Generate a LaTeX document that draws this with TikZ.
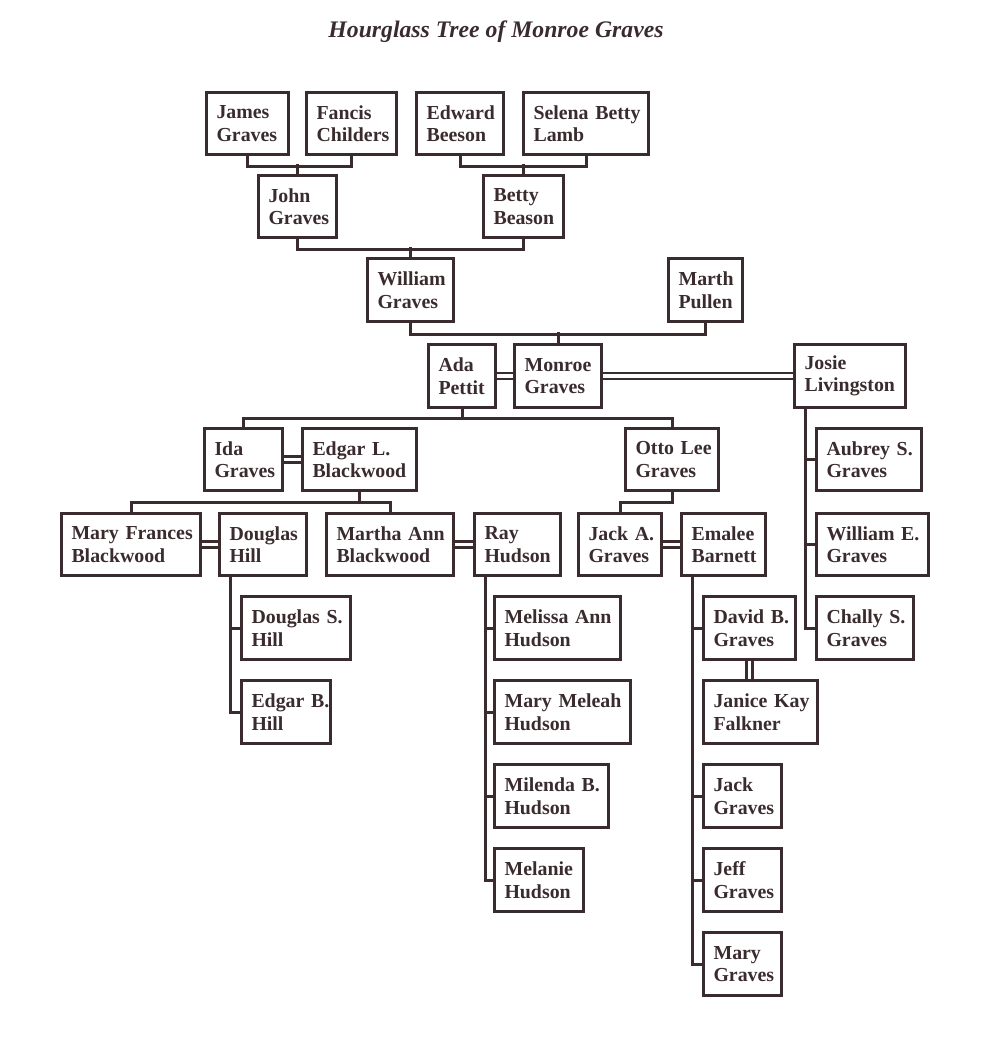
\documentclass[tikz,border=0pt]{standalone}
\usepackage{fontspec}
\setmainfont{Liberation Serif}
\usetikzlibrary{backgrounds}
\definecolor{ink}{RGB}{58,44,46}

\begin{document}
\begin{tikzpicture}
[
x=0.02cm, y=-0.02cm,
Person/.style={rectangle, draw=ink, line width=0.06cm, text=ink, font=\fontsize{11.3}{12.8}\selectfont\bfseries, align=left, inner xsep=0.2cm, inner ysep=0pt, minimum height=1.26cm, text width={(#1-23)*0.02cm},
  execute at begin node={\hyphenpenalty=10000\exhyphenpenalty=10000}},
Title/.style={text=ink, font=\fontsize{13.5}{16}\selectfont\bfseries\itshape},
Line/.style={draw=ink, line width=0.06cm},
Spouse/.style={draw=ink, line width=0.05cm, double=white, double distance=0.07cm},
]
\useasboundingbox (0,0) rectangle (990,1043);

\node[Title] (title) at (496,32) {Hourglass Tree of Monroe Graves};

\node[Person=85]  (jamesg)   at (247.5,123.5) {James\\Graves};
\node[Person=93]  (fancisc)  at (351.5,123.5) {Fancis\\Childers};
\node[Person=90]  (edwardb)  at (460,123.5)   {Edward\\Beeson};
\node[Person=128] (selenal)  at (586,123.5)   {Selena~Betty\\Lamb};

\node[Person=81]  (johng)    at (297.5,206.5) {John\\Graves};
\node[Person=83]  (bettyb)   at (523.5,206.5) {Betty\\Beason};

\node[Person=89]  (williamg) at (410.5,290)   {William\\Graves};
\node[Person=77]  (marthp)   at (705.5,290)   {Marth\\Pullen};

\node[Person=70]  (adap)     at (462,376)     {Ada\\Pettit};
\node[Person=90]  (monroeg)  at (558,376)     {Monroe\\Graves};
\node[Person=114] (josiel)   at (850,376)     {Josie\\Livingston};

\node[Person=81]  (idag)     at (243.5,459.5) {Ida\\Graves};
\node[Person=117] (edgarlb)  at (359.5,459.5) {Edgar~L.\\Blackwood};
\node[Person=96]  (ottolg)   at (672,459.5)   {Otto~Lee\\Graves};
\node[Person=108] (aubreysg) at (869,459.5)   {Aubrey~S.\\Graves};

\node[Person=142] (maryfb)   at (131,544.5)   {Mary~Frances\\Blackwood};
\node[Person=90]  (douglash) at (263,544.5)   {Douglas\\Hill};
\node[Person=130] (marthaab) at (390,544.5)   {Martha~Ann\\Blackwood};
\node[Person=89]  (rayh)     at (517.5,544.5) {Ray\\Hudson};
\node[Person=86]  (jackag)   at (620,544.5)   {Jack~A.\\Graves};
\node[Person=87]  (emaleeb)  at (723.5,544.5) {Emalee\\Barnett};
\node[Person=115] (williameg) at (872.5,544.5) {William~E.\\Graves};

\node[Person=112] (douglassh) at (296,628)    {Douglas~S.\\Hill};
\node[Person=129] (melissaah) at (557.5,628)  {Melissa~Ann\\Hudson};
\node[Person=95]  (davidbg)  at (749.5,628)   {David~B.\\Graves};
\node[Person=100] (challysg) at (865,628)     {Chally~S.\\Graves};

\node[Person=92]  (edgarbh)  at (286,712)     {Edgar~B.\\Hill};
\node[Person=139] (marymh)   at (562.5,712)   {Mary~Meleah\\Hudson};
\node[Person=117] (janicekf) at (760.5,712)   {Janice~Kay\\Falkner};

\node[Person=117] (milendabh) at (551.5,796)  {Milenda~B.\\Hudson};
\node[Person=81]  (jackg)    at (742.5,796)   {Jack\\Graves};

\node[Person=92]  (melanieh) at (539,880)     {Melanie\\Hudson};
\node[Person=81]  (jeffg)    at (742.5,880)   {Jeff\\Graves};

\node[Person=81]  (maryg)    at (742.5,964)   {Mary\\Graves};

\begin{scope}[on background layer]
% ancestors
\draw[Line] (jamesg.south) -- ++(0,10) -| (fancisc.south);
\draw[Line] (johng.north) -- ++(0,-10);
\draw[Line] (edwardb.south) -- ++(0,10) -| (selenal.south);
\draw[Line] (bettyb.north) -- ++(0,-10);
\draw[Line] (johng.south) -- ++(0,10) -| (bettyb.south);
\draw[Line] (williamg.north) -- ++(0,-10);
\draw[Line] (williamg.south) -- ++(0,11.5) -| (marthp.south);
\draw[Line] (monroeg.north) -- ++(0,-11.5);

% marriages
\draw[Spouse] (adap) -- (monroeg);
\draw[Spouse] (monroeg) -- (josiel);
\draw[Spouse] (idag) -- (edgarlb);
\draw[Spouse] (maryfb) -- (douglash);
\draw[Spouse] (marthaab) -- (rayh);
\draw[Spouse] (jackag) -- (emaleeb);
\draw[Spouse] (davidbg.south) -- (davidbg.south |- janicekf.north);

% descendants
\draw[Line] (adap.south) -- ++(0,9.5) coordinate (adabar);
\draw[Line] (idag.north) |- (adabar) -| (ottolg.north);
\draw[Line] (edgarlb.south) -- ++(0,10) coordinate (edgarbar);
\draw[Line] (maryfb.north) |- (edgarbar) -| (marthaab.north);
\draw[Line] (ottolg.south) -- ++(0,10) -| (jackag.north);

\draw[Line] (douglash.south west) ++(12.5,0) coordinate (hillline) |- (edgarbh.west);
\draw[Line] (douglassh.west) -- (douglassh.west -| hillline);

\draw[Line] (rayh.south west) ++(12.5,0) coordinate (hudsonline) |- (melanieh.west);
\draw[Line] (melissaah.west) -- (melissaah.west -| hudsonline);
\draw[Line] (marymh.west) -- (marymh.west -| hudsonline);
\draw[Line] (milendabh.west) -- (milendabh.west -| hudsonline);

\draw[Line] (emaleeb.south west) ++(12,0) coordinate (barnettline) |- (maryg.west);
\draw[Line] (davidbg.west) -- (davidbg.west -| barnettline);
\draw[Line] (jackg.west) -- (jackg.west -| barnettline);
\draw[Line] (jeffg.west) -- (jeffg.west -| barnettline);

\draw[Line] (josiel.south west) ++(12.5,0) coordinate (josieline) |- (challysg.west);
\draw[Line] (aubreysg.west) -- (aubreysg.west -| josieline);
\draw[Line] (williameg.west) -- (williameg.west -| josieline);
\end{scope}

\end{tikzpicture}
\end{document}
